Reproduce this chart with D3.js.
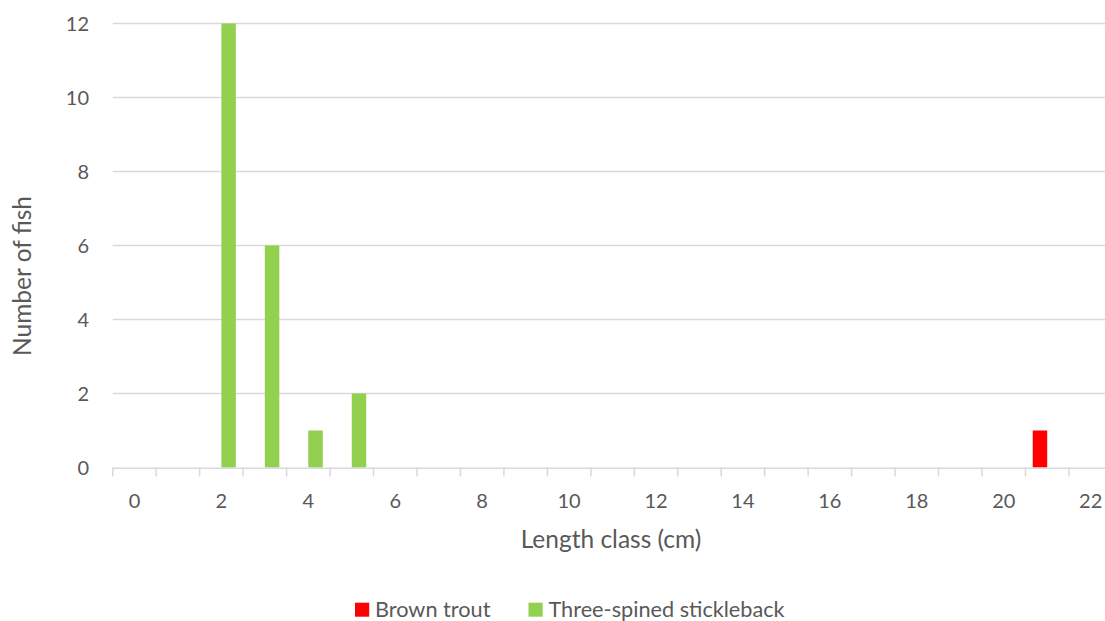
<!DOCTYPE html>
<html><head><meta charset="utf-8">
<script src="https://cdn.jsdelivr.net/npm/d3@7"></script>
<style>
html,body{margin:0;padding:0;background:#fff;overflow:hidden}
svg{display:block}
text{font-family:Lato,"Open Sans",sans-serif;fill:#595959}
</style></head><body>
<svg id="chart" width="1105" height="621"></svg>
<script>
const categories = [0,1,2,3,4,5,6,7,8,9,10,11,12,13,14,15,16,17,18,19,20,21,22];
const seriesNames = ["Brown trout", "Three-spined stickleback"];
const brownTrout = [0,0,0,0,0,0,0,0,0,0,0,0,0,0,0,0,0,0,0,0,0,1,0];
const stickleback = [0,0,12,6,1,2,0,0,0,0,0,0,0,0,0,0,0,0,0,0,0,0,0];
const yTicks = [0,2,4,6,8,10,12];
const colors = ["#FF0000", "#92D050"];
const xTitle = "Length class (cm)";
const yTitle = "Number of fish";

const svg = d3.select("#chart");
const pLeft = 112.7, pRight = 1112.4, pTop = 23.5, pBottom = 467.5;

const x = d3.scaleBand().domain(categories).range([pLeft, pRight]).padding(0);
const x1 = d3.scaleBand().domain(seriesNames).range([0, x.bandwidth()]).paddingInner(0).paddingOuter(0.5);
const y = d3.scaleLinear().domain([0, 12]).range([pBottom, pTop]);

// gridlines
svg.append("g").selectAll("line").data(yTicks.filter(d => d > 0)).join("line")
  .attr("x1", pLeft).attr("x2", pRight)
  .attr("y1", d => y(d)).attr("y2", d => y(d))
  .attr("stroke", "#D9D9D9").attr("stroke-width", 1.3);

// y labels
svg.append("g").selectAll("text").data(yTicks).join("text")
  .attr("x", 89).attr("y", d => y(d)).attr("dy", "0.36em")
  .attr("text-anchor", "end").attr("font-size", 20).text(d => d);

// bars
const data = [brownTrout, stickleback];
data.forEach((vals, si) => {
  svg.append("g").selectAll("rect").data(categories.map((c, i) => ({c, v: vals[i]})).filter(d => d.v > 0)).join("rect")
    .attr("x", d => x(d.c) + x1(seriesNames[si]))
    .attr("width", x1.bandwidth())
    .attr("y", d => y(d.v))
    .attr("height", d => y(0) - y(d.v))
    .attr("fill", colors[si]);
});

// x axis line
svg.append("line").attr("x1", pLeft).attr("x2", pRight).attr("y1", pBottom + 0.7).attr("y2", pBottom + 0.7)
  .attr("stroke", "#D9D9D9").attr("stroke-width", 1.5);
// tick marks at category boundaries
const bounds = categories.map(c => x(c)).concat([pRight]);
svg.append("g").selectAll("line").data(bounds).join("line")
  .attr("x1", d => d).attr("x2", d => d)
  .attr("y1", pBottom).attr("y2", pBottom + 9)
  .attr("stroke", "#D9D9D9").attr("stroke-width", 1.5);
// x labels every 2
svg.append("g").selectAll("text").data(categories.filter(c => c % 2 === 0)).join("text")
  .attr("x", d => x(d) + x.bandwidth() / 2).attr("y", 508)
  .attr("text-anchor", "middle").attr("font-size", 20).text(d => d);

// axis titles
svg.append("text").attr("x", 611).attr("y", 548).attr("text-anchor", "middle")
  .attr("font-size", 24.5).text(xTitle);
svg.append("text").attr("transform", "translate(31,276) rotate(-90)").attr("text-anchor", "middle")
  .attr("font-size", 24.5).text(yTitle);

// legend
const leg = svg.append("g");
const legX = [355, 528.5];
seriesNames.forEach((n, i) => {
  leg.append("rect").attr("x", legX[i]).attr("y", 602.7).attr("width", 14.2).attr("height", 14).attr("fill", colors[i]);
  leg.append("text").attr("x", legX[i] + 20).attr("y", 616.7).attr("font-size", 21.7).text(n);
});
</script>
</body></html>
